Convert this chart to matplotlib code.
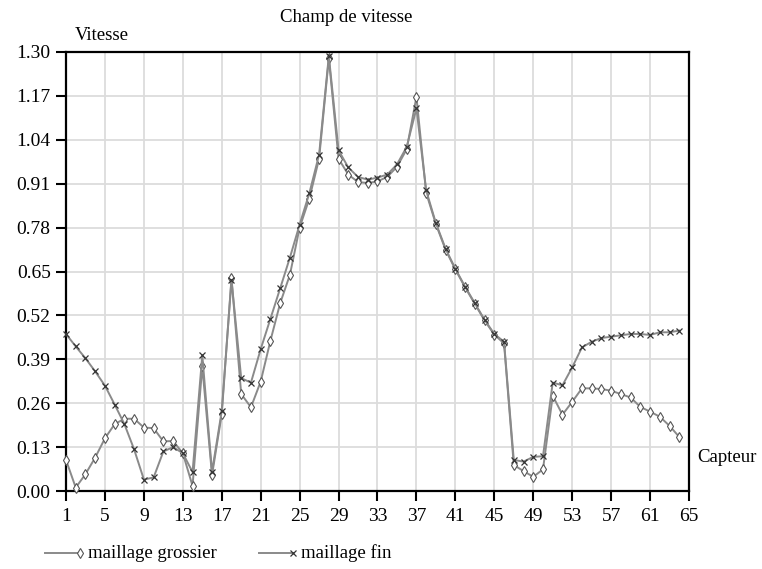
import matplotlib
matplotlib.use("Agg")
import matplotlib.pyplot as plt
from matplotlib.lines import Line2D

plt.rcParams['font.family'] = ['Liberation Serif', 'DejaVu Serif']

capteurs = list(range(1, 65))
grossier = [0.092, 0.010, 0.050, 0.099, 0.156, 0.198, 0.214, 0.214, 0.188, 0.186,
            0.147, 0.148, 0.112, 0.015, 0.369, 0.047, 0.228, 0.630, 0.287, 0.248,
            0.324, 0.445, 0.556, 0.640, 0.780, 0.866, 0.984, 1.281, 0.984, 0.937,
            0.915, 0.912, 0.917, 0.930, 0.960, 1.012, 1.167, 0.883, 0.790, 0.714,
            0.656, 0.603, 0.554, 0.505, 0.463, 0.437, 0.077, 0.059, 0.042, 0.064,
            0.282, 0.226, 0.264, 0.304, 0.304, 0.302, 0.297, 0.287, 0.277, 0.249,
            0.235, 0.220, 0.193, 0.160]
fin = [0.465, 0.428, 0.393, 0.354, 0.312, 0.256, 0.198, 0.123, 0.034, 0.040,
       0.117, 0.130, 0.112, 0.056, 0.402, 0.057, 0.237, 0.625, 0.334, 0.321,
       0.420, 0.510, 0.600, 0.691, 0.789, 0.882, 0.996, 1.288, 1.009, 0.958,
       0.930, 0.922, 0.928, 0.937, 0.967, 1.019, 1.133, 0.890, 0.793, 0.717,
       0.658, 0.605, 0.556, 0.507, 0.465, 0.442, 0.092, 0.087, 0.101, 0.103,
       0.321, 0.313, 0.366, 0.425, 0.442, 0.453, 0.457, 0.461, 0.465, 0.465,
       0.462, 0.470, 0.470, 0.475]
xticks = list(range(1, 66, 4))
yticks = [0.00, 0.13, 0.26, 0.39, 0.52, 0.65, 0.78, 0.91, 1.04, 1.17, 1.30]

W, H = 762, 569
fig = plt.figure(figsize=(W / 100, H / 100), dpi=100)
ax = fig.add_axes([66 / W, 1 - 491 / H, (689 - 66) / W, (491 - 52) / H])

line_col = '#8a8a8a'
ax.plot(capteurs, grossier, color=line_col, lw=1.4, marker='d', ms=5.5,
        mfc='white', mec='#555555', mew=0.8, zorder=3, clip_on=False)
ax.plot(capteurs, fin, color=line_col, lw=1.4, marker='x', ms=4.5,
        mec='#333333', mew=0.9, zorder=4, clip_on=False)

ax.set_xlim(1, 65)
ax.set_ylim(0, 1.30)
ax.set_xticks(xticks)
ax.set_yticks(yticks)
ax.set_yticklabels(['%.2f' % v for v in yticks])
ax.grid(True, color='#dcdcdc', lw=1.3, zorder=0)
ax.set_axisbelow(True)
for s in ax.spines.values():
    s.set_linewidth(1.6)
    s.set_color('black')
ax.tick_params(axis='both', direction='out', length=7, width=1.5, labelsize=14, pad=4)
ax.tick_params(axis='x', pad=5)

fig.text(346 / W, 1 - 17 / H, 'Champ de vitesse', ha='center', va='center', fontsize=13.5)
fig.text(75 / W, 1 - 35 / H, 'Vitesse', ha='left', va='center', fontsize=13.5)
fig.text(697 / W, 1 - 458 / H, 'Capteur', ha='left', va='center', fontsize=13.5)

# legend
ly = 1 - 553 / H
fig.add_artist(Line2D([45 / W, 80 / W], [ly, ly], color=line_col, lw=1.4))
fig.add_artist(Line2D([80 / W], [ly], marker='d', ms=5.5, mfc='white', mec='#555555', mew=0.8, lw=0))
fig.text(88 / W, ly, 'maillage grossier', ha='left', va='center', fontsize=13.5)
fig.add_artist(Line2D([259 / W, 293 / W], [ly, ly], color=line_col, lw=1.4))
fig.add_artist(Line2D([293 / W], [ly], marker='x', ms=4.5, mec='#333333', mew=0.9, lw=0))
fig.text(301 / W, ly, 'maillage fin', ha='left', va='center', fontsize=13.5)

fig.savefig('out.png', dpi=100)
